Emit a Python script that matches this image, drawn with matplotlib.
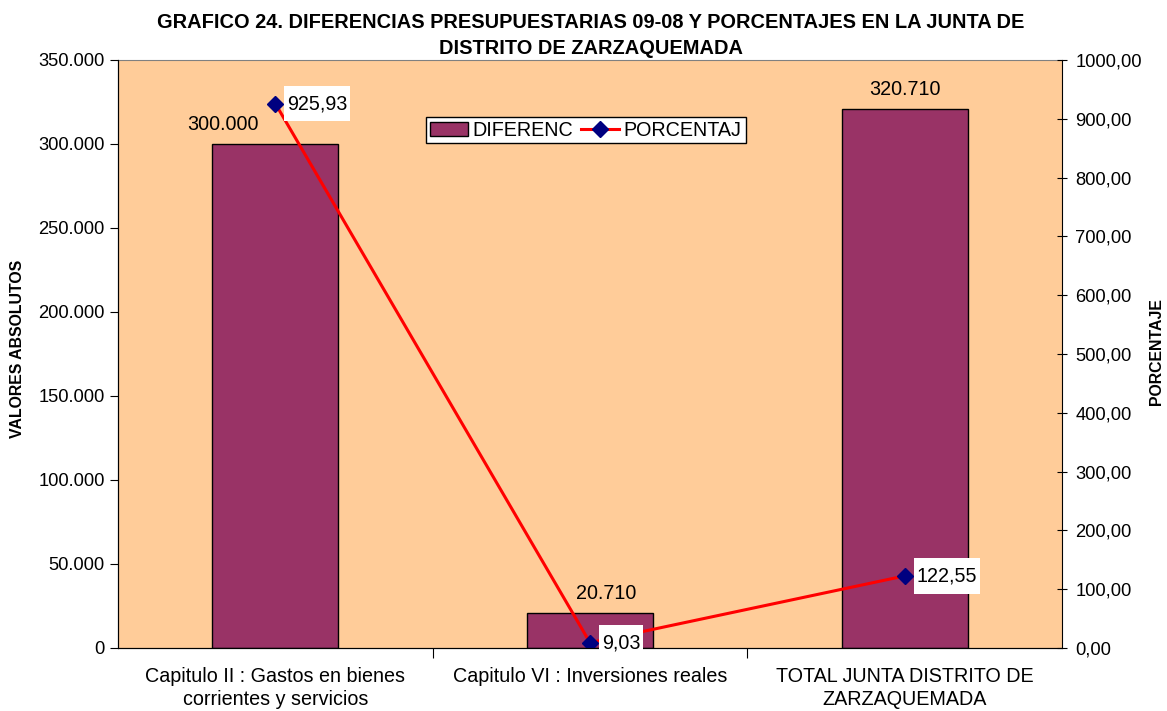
import matplotlib.pyplot as plt
import numpy as np
from matplotlib.path import Path

plt.rcParams['font.family'] = ['Liberation Sans', 'DejaVu Sans']

categorias = ['Capitulo II : Gastos en bienes\ncorrientes y servicios',
              'Capitulo VI : Inversiones reales',
              'TOTAL JUNTA DISTRITO DE\nZARZAQUEMADA']
diferencias = [300000, 20710, 320710]
porcentajes = [925.93, 9.03, 122.55]
etiq_dif = ['300.000', '20.710', '320.710']
etiq_pct = ['925,93', '9,03', '122,55']


def caja(x0, y0, width, height, mutation_size):
    # white label box, a bit taller than wide padding (like Excel)
    px = 0.15 * mutation_size
    py = 0.42 * mutation_size
    x0, y0 = x0 - px, y0 - py
    x1, y1 = x0 + width + 2 * px, y0 + height + 2 * py
    return Path([(x0, y0), (x1, y0), (x1, y1), (x0, y1), (x0, y0)], closed=True)


fig = plt.figure(figsize=(11.67, 7.11), dpi=100)
ax = fig.add_axes([118/1167, 1 - 648/711, (1062 - 118)/1167, (648 - 60)/711])
ax.set_facecolor('#FFCC99')

x = np.arange(len(categorias))
bars = ax.bar(x, diferencias, width=0.4, color='#993366', edgecolor='black', linewidth=1, label='DIFERENC')
ax.set_xlim(-0.5, 2.5)
ax.set_ylim(0, 350000)
ax.set_yticks(np.arange(0, 350001, 50000))
ax.set_yticklabels(['0' if v == 0 else f'{v:,}'.replace(',', '.') for v in range(0, 350001, 50000)], fontsize=13.2)
ax.set_xticks([0.5, 1.5], minor=False)
ax.set_xticklabels([])
ax.set_xticks(x, minor=True)
ax.set_xticklabels(categorias, minor=True, fontsize=14.2, linespacing=1.22)
ax.tick_params(axis='x', which='minor', length=0, pad=14)
ax.tick_params(axis='x', which='major', length=7, direction='out')
ax.tick_params(axis='y', length=6, direction='out')
ax.spines['top'].set_color('#808080')
ax.spines['right'].set_visible(False)

offs = [-38, 12, 0]
for i, (b, t) in enumerate(zip(bars, etiq_dif)):
    ax.annotate(t, (b.get_x() + b.get_width()/2, b.get_height()), xytext=(offs[i], 7),
                textcoords='offset points', ha='center', va='bottom', fontsize=14.2)

ax2 = ax.twinx()
ax2.plot(x, porcentajes, color='red', linewidth=2.2, marker='D', markersize=8,
         markerfacecolor='#000080', markeredgecolor='#000080', label='PORCENTAJ')
ax2.set_ylim(0, 1000)
ax2.set_yticks(np.arange(0, 1001, 100))
ax2.set_yticklabels([f'{v},00' for v in range(0, 1001, 100)], fontsize=13.2)
ax2.tick_params(axis='y', length=7, direction='inout', pad=6)
ax2.spines['top'].set_visible(False)

for xi, yi, t in zip(x, porcentajes, etiq_pct):
    ax2.annotate(t, (xi, yi), xytext=(8.5, 0), textcoords='offset points', ha='left', va='center',
                 fontsize=14.2, bbox=dict(boxstyle=caja, fc='white', ec='none'), zorder=5)

h1, l1 = ax.get_legend_handles_labels()
h2, l2 = ax2.get_legend_handles_labels()
leg = ax2.legend(h1 + h2, l1 + l2, ncol=2, loc='center', bbox_to_anchor=((586 - 118)/944, 1 - (130 - 60)/588),
                 fontsize=14.2, frameon=True, fancybox=False, edgecolor='black', framealpha=1,
                 handlelength=1.9, handleheight=0.7, columnspacing=0.4, handletextpad=0.25,
                 borderpad=0.2, borderaxespad=0)
leg.get_frame().set_linewidth(1)

fig.text(591/1167, 1 - 22/711, 'GRAFICO 24. DIFERENCIAS PRESUPUESTARIAS 09-08 Y PORCENTAJES EN LA JUNTA DE',
         ha='center', va='center', fontsize=14.4, fontweight='bold')
fig.text(591/1167, 1 - 48/711, 'DISTRITO DE ZARZAQUEMADA',
         ha='center', va='center', fontsize=14.4, fontweight='bold')
fig.text(18/1167, 1 - 349/711, 'VALORES ABSOLUTOS', rotation=90, ha='center', va='center',
         fontsize=11.4, fontweight='bold')
fig.text(1157/1167, 1 - 352/711, 'PORCENTAJE', rotation=90, ha='center', va='center',
         fontsize=11.4, fontweight='bold')

fig.savefig('out.png', dpi=100)
